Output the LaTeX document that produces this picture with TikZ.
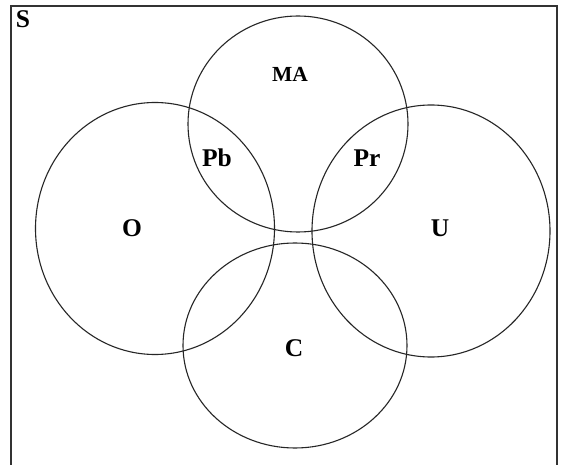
\documentclass[tikz,border=0pt]{standalone}
\usepackage{fontspec}
\setmainfont{Liberation Serif}
\begin{document}
\begin{tikzpicture}[x=1pt,y=-1pt,
  ring/.style={draw=black!85, line width=1.1pt},
  lbl/.style={font=\bfseries\fontsize{25.5}{27}\selectfont, inner sep=0pt},
  smalllbl/.style={font=\bfseries\fontsize{21.5}{23}\selectfont, inner sep=0pt}]
\useasboundingbox (0,0) rectangle (568,465);
\fill[white] (0,0) rectangle (568,465);
\draw[line width=1.3pt, black!80] (11,475) -- (11,6) -- (557,6) -- (557,475);
\draw[ring] (298,124) ellipse [x radius=110, y radius=108];
\draw[ring] (155,228.5) ellipse [x radius=119.5, y radius=126];
\draw[ring] (431,231) ellipse [x radius=119, y radius=126];
\draw[ring] (295,345.5) ellipse [x radius=112, y radius=102.5];
\node[lbl] (S) at (23,19) {S};
\node[smalllbl] (MA) at (290,74) {MA};
\node[lbl] (Pb) at (217,158) {Pb};
\node[lbl] (Pr) at (367,158) {Pr};
\node[lbl] (O) at (132,228) {O};
\node[lbl] (U) at (440,228) {U};
\node[lbl] (C) at (294,348) {C};
\end{tikzpicture}
\end{document}
